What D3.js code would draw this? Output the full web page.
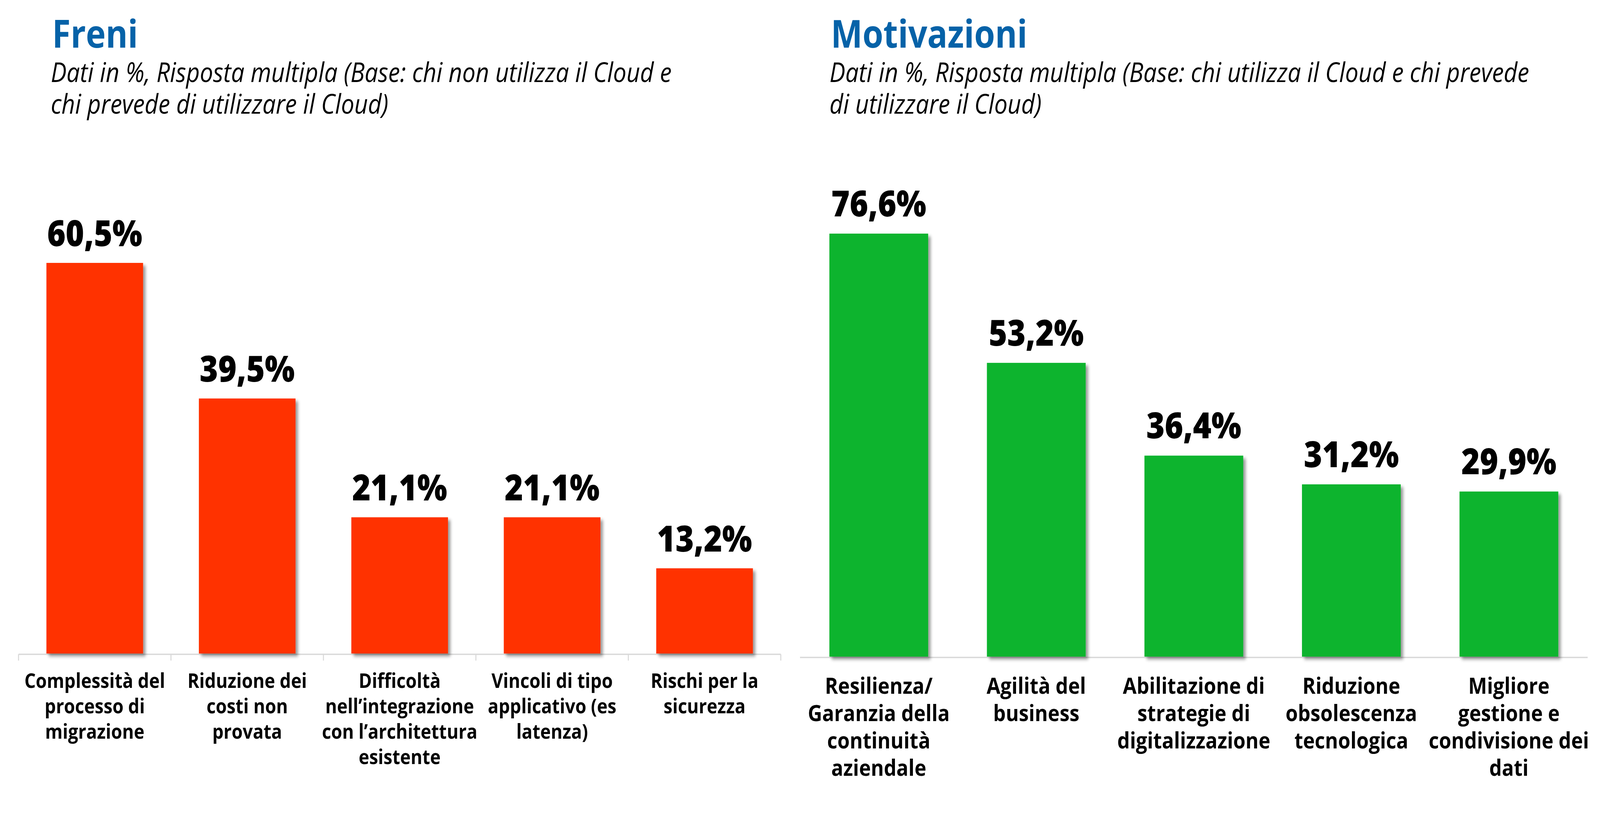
<!DOCTYPE html>
<html>
<head>
<meta charset="utf-8">
<script src="https://cdn.jsdelivr.net/npm/d3@7"></script>
<style>
  html, body { margin: 0; padding: 0; background: #fff; overflow: hidden; }
  .chart svg { display: block; }
  .title { font-family: "Open Sans", sans-serif; font-weight: 700; fill: #0562a8; }
  .subtitle { font-family: "Open Sans", sans-serif; font-style: italic; fill: #000; }
  .value { font-family: "Open Sans", sans-serif; font-weight: 800; fill: #000; }
  .cat { font-family: "Open Sans", sans-serif; font-weight: 700; fill: #000; }
</style>
</head>
<body>
<div class="chart"></div>
<script>
// DATA ------------------------------
const freniCategories = [
    "Complessità del\nprocesso di\nmigrazione",
    "Riduzione dei\ncosti non\nprovata",
    "Difficoltà\nnell’integrazione\ncon l’architettura\nesistente",
    "Vincoli di tipo\napplicativo (es\nlatenza)",
    "Rischi per la\nsicurezza"
];
const freniValues = [60.5, 39.5, 21.1, 21.1, 13.2];

const motivazioniCategories = [
    "Resilienza/\nGaranzia della\ncontinuità\naziendale",
    "Agilità del\nbusiness",
    "Abilitazione di\nstrategie di\ndigitalizzazione",
    "Riduzione\nobsolescenza\ntecnologica",
    "Migliore\ngestione e\ncondivisione dei\ndati"
];
const motivazioniValues = [76.6, 53.2, 36.4, 31.2, 29.9];

const freniSubtitle = [
    "Dati in %, Risposta multipla (Base: chi non utilizza il Cloud e",
    "chi prevede di utilizzare il Cloud)"
];
const motivazioniSubtitle = [
    "Dati in %, Risposta multipla (Base: chi utilizza il Cloud e chi prevede",
    "di utilizzare il Cloud)"
];

// SVG INIT ------------------------------
const width = 4666,
    height = 2135;

// viewBox stretched over the whole window
const svg = d3
    .select(".chart")
    .append("svg")
    .attr("viewBox", `0 0 ${width} ${height}`)
    .attr("preserveAspectRatio", "none")
    .style("width", "100vw")
    .style("height", "100vh");

// soft shadow on the bars
svg.append("defs")
    .append("filter")
    .attr("id", "shadow")
    .attr("x", "-20%").attr("y", "-20%")
    .attr("width", "150%").attr("height", "150%")
    .append("feDropShadow")
    .attr("dx", 7)
    .attr("dy", 7)
    .attr("stdDeviation", 4)
    .attr("flood-color", "#000")
    .attr("flood-opacity", 0.4);

const fmt = v => v.toFixed(1).replace(".", ",") + "%";

// DRAW ONE PANEL ------------------------------
function drawChart(cfg) {
    const g = svg.append("g");

    g.append("text")
        .attr("class", "title")
        .attr("x", cfg.left)
        .attr("y", 122)
        .attr("font-size", 98)
        .text(cfg.title);

    g.append("text")
        .attr("class", "subtitle")
        .attr("font-size", 69)
        .selectAll("tspan")
        .data(cfg.subtitle)
        .join("tspan")
        .attr("x", cfg.left - 4)
        .attr("y", (d, i) => 210 + i * 81)
        .text(d => d);

    const data = cfg.categories.map((c, i) => ({ cat: c, value: cfg.values[i] }));

    const xScale = d3.scaleBand()
        .domain(cfg.categories)
        .range(cfg.xRange)
        .paddingInner(cfg.pad)
        .paddingOuter(cfg.pad / 2);

    const yScale = d3.scaleLinear()
        .domain([0, cfg.yMax])
        .range([cfg.base, cfg.yTop]);

    // axis line
    g.append("line")
        .attr("x1", cfg.xRange[0])
        .attr("x2", cfg.xRange[1])
        .attr("y1", cfg.base + 2)
        .attr("y2", cfg.base + 2)
        .attr("stroke", "#d9d9d9")
        .attr("stroke-width", 3.5);

    // tick marks between categories (left chart only)
    if (cfg.ticks) {
        g.selectAll(".tick")
            .data(d3.range(cfg.categories.length + 1))
            .join("line")
            .attr("class", "tick")
            .attr("x1", i => cfg.xRange[0] + i * xScale.step())
            .attr("x2", i => cfg.xRange[0] + i * xScale.step())
            .attr("y1", cfg.base + 2)
            .attr("y2", cfg.base + 18)
            .attr("stroke", "#d9d9d9")
            .attr("stroke-width", 3);
    }

    g.selectAll(".bar")
        .data(data)
        .join("rect")
        .attr("class", "bar")
        .attr("x", d => xScale(d.cat))
        .attr("y", d => yScale(d.value))
        .attr("width", xScale.bandwidth())
        .attr("height", d => cfg.base - yScale(d.value))
        .attr("fill", cfg.color)
        .attr("filter", "url(#shadow)");

    g.selectAll(".value")
        .data(data)
        .join("text")
        .attr("class", "value")
        .attr("x", d => xScale(d.cat) + xScale.bandwidth() / 2)
        .attr("y", d => yScale(d.value) - cfg.valueGap)
        .attr("text-anchor", "middle")
        .attr("font-size", cfg.valueSize)
        .text(d => fmt(d.value));

    const labels = g.selectAll(".cat")
        .data(data)
        .join("text")
        .attr("class", "cat")
        .attr("text-anchor", "middle")
        .attr("font-size", cfg.catSize);

    labels.selectAll("tspan")
        .data(d => d.cat.split("\n").map(line => ({ line, x: xScale(d.cat) + xScale.bandwidth() / 2 })))
        .join("tspan")
        .attr("x", d => d.x)
        .attr("y", (d, i) => cfg.base + cfg.catOffset + i * cfg.catLine)
        .text(d => d.line);
}

drawChart({
    title: "Freni",
    subtitle: freniSubtitle,
    categories: freniCategories,
    values: freniValues,
    color: "#ff3300",
    left: 152,
    xRange: [54, 2277],
    pad: 0.366,
    base: 1673,
    yMax: 70,
    yTop: 516,
    ticks: true,
    valueGap: 43,
    valueSize: 92,
    catSize: 52,
    catOffset: 88,
    catLine: 65
});

drawChart({
    title: "Motivazioni",
    subtitle: motivazioniSubtitle,
    categories: motivazioniCategories,
    values: motivazioniValues,
    color: "#0bb42d",
    left: 2423,
    xRange: [2333, 4630],
    pad: 0.373,
    base: 1681,
    yMax: 80,
    yTop: 550,
    ticks: false,
    valueGap: 44,
    valueSize: 92,
    catSize: 58,
    catOffset: 95,
    catLine: 70
});
</script>
</body>
</html>
